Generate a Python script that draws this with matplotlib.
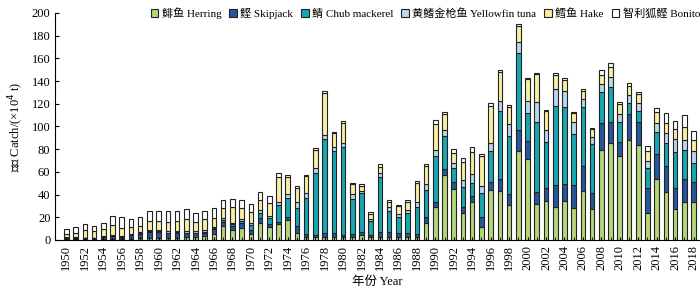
import matplotlib
matplotlib.use('Agg')
import matplotlib.pyplot as plt
import numpy as np

###############################################################
# fonts
###############################################################
plt.rcParams['font.family'] = ['Liberation Serif', 'Noto Sans CJK SC']
plt.rcParams['font.size'] = 9

###############################################################
# data (10^4 t)
###############################################################
years = np.arange(1950, 2019)

herring = [0.5, 0.5, 0.5, 0.5, 0.5, 0.5, 0.5, 1.0, 1.5, 2.0,
           2.0, 2.0, 2.0, 2.5, 3.0, 3.8, 5.3, 12.3, 8.8, 10.9,
           5.3, 15.3, 11.7, 13.8, 17.6, 6.0, 3.0, 2.3, 2.3, 2.3,
           2.3, 2.3, 4.4, 2.3, 2.9, 2.9, 2.9, 2.9, 2.3, 15.3,
           29.4, 57.3, 44.6, 23.5, 33.8, 11.7, 44.0, 43.0, 30.8, 78.0,
           71.0, 31.7, 34.0, 29.4, 34.4, 28.5, 43.5, 27.6, 79.0, 85.0,
           74.0, 88.0, 84.0, 23.5, 54.0, 42.6, 27.6, 33.8, 33.8]
skipjack = [2.0, 1.5, 1.0, 1.0, 2.5, 3.0, 2.0, 3.0, 3.5, 5.0,
            5.0, 4.0, 4.5, 3.5, 3.0, 2.5, 4.0, 3.3, 3.5, 4.4,
            3.5, 3.8, 2.1, 1.8, 2.4, 6.0, 2.4, 1.8, 4.2, 3.6,
            2.0, 3.0, 2.9, 1.8, 4.4, 3.9, 3.0, 3.6, 2.7, 4.7,
            4.4, 5.0, 6.8, 5.3, 5.0, 8.3, 6.8, 11.0, 9.4, 18.5,
            16.0, 10.3, 12.0, 19.0, 15.0, 20.0, 22.0, 14.0, 24.0, 19.0,
            12.0, 23.0, 20.0, 22.0, 22.0, 22.6, 18.0, 19.7, 17.6]
chub = [0.0, 0.0, 0.0, 0.0, 0.0, 0.5, 0.5, 1.0, 1.0, 1.0,
        0.5, 0.5, 0.5, 0.5, 0.5, 1.0, 1.0, 2.0, 1.8, 1.7,
        4.4, 5.0, 5.3, 15.2, 16.7, 16.0, 31.4, 54.6, 82.2, 72.5,
        77.8, 30.8, 33.8, 12.6, 48.5, 19.0, 14.7, 17.0, 23.8, 24.0,
        40.5, 29.3, 11.7, 17.6, 11.0, 21.0, 27.6, 60.0, 51.8, 68.0,
        25.0, 62.3, 40.5, 70.0, 68.0, 45.0, 52.0, 42.6, 27.0, 31.0,
        18.0, 10.0, 9.3, 18.0, 19.0, 20.0, 32.0, 25.8, 16.0]
yellowfin = [0.3, 0.3, 0.3, 0.3, 0.3, 0.5, 0.5, 0.5, 1.0, 1.0,
             1.0, 1.0, 1.0, 1.0, 1.0, 1.5, 1.4, 1.4, 1.2, 1.2,
             2.1, 2.3, 2.0, 3.0, 3.5, 5.0, 4.4, 4.4, 3.8, 3.8,
             3.0, 4.1, 2.1, 1.8, 3.5, 3.6, 2.3, 2.9, 5.0, 5.3,
             5.0, 5.3, 4.5, 6.5, 8.0, 6.6, 6.8, 8.0, 10.0, 10.0,
             10.5, 17.0, 10.0, 14.7, 14.0, 10.3, 7.0, 6.2, 7.4, 8.3,
             7.0, 7.0, 7.4, 6.0, 8.4, 9.3, 11.0, 8.8, 11.0]
hake = [2.5, 4.0, 7.0, 6.0, 6.0, 9.0, 7.0, 6.0, 5.5, 8.0,
        8.0, 8.0, 9.0, 11.0, 8.0, 9.4, 8.0, 8.9, 13.5, 9.7,
        9.7, 8.8, 11.2, 21.4, 15.6, 12.6, 14.7, 16.2, 37.3, 11.8,
        18.2, 8.8, 4.4, 4.4, 4.7, 4.4, 7.0, 7.4, 16.7, 16.2,
        23.0, 13.8, 9.3, 16.0, 20.0, 26.0, 33.0, 26.0, 15.5, 14.0,
        19.0, 25.0, 17.0, 12.4, 9.7, 8.0, 7.0, 7.3, 8.0, 8.7,
        9.0, 8.0, 7.6, 9.0, 9.0, 8.3, 9.0, 11.7, 10.0]
bonito = [4.1, 4.9, 5.0, 4.5, 6.0, 7.9, 9.5, 7.0, 7.5, 8.3,
          8.8, 10.3, 8.8, 9.1, 8.0, 7.6, 8.2, 7.3, 7.0, 7.3,
          6.7, 7.4, 6.7, 4.1, 1.5, 1.5, 1.5, 1.5, 1.5, 1.4,
          1.4, 1.5, 1.7, 1.5, 3.0, 1.4, 0.8, 1.4, 1.8, 1.5,
          3.5, 2.3, 3.0, 3.0, 4.0, 2.4, 2.0, 2.0, 1.5, 2.0,
          1.5, 0.7, 1.0, 1.6, 1.4, 1.0, 1.5, 1.2, 4.6, 3.6,
          1.5, 2.0, 2.4, 4.3, 4.0, 9.0, 7.0, 10.0, 8.0]

series = [herring, skipjack, chub, yellowfin, hake, bonito]
labels = ['鲱鱼 Herring', '鲣 Skipjack', '鲭 Chub mackerel',
          '黄鳍金枪鱼 Yellowfin tuna', '鳕鱼 Hake', '智利狐鲣 Bonito']
colors = ['#b3d67a', '#24579c', '#17a7b2', '#b7d7ee', '#f7f0a2', '#ffffff']

##################################################
# the figure
##################################################
fig = plt.figure(figsize=(7, 2.93), dpi=100)
ax = fig.add_axes([0.079, 0.181, 0.921, 0.775])

bottom = np.zeros(len(years))
for vals, lab, col in zip(series, labels, colors):
    vals = np.array(vals)
    ax.bar(years, vals, width=0.5, bottom=bottom, color=col,
           edgecolor='#222222', linewidth=0.8, label=lab)
    bottom += vals

ax.set_xlim(1948.8, 2018.7)
ax.set_ylim(0, 200)
ax.set_yticks(np.arange(0, 201, 20))
ax.set_xticks(np.arange(1950, 2019, 2))
ax.set_xticks(np.arange(1950, 2019, 1), minor=True)
ax.tick_params(axis='x', which='both', direction='in', length=2, rotation=90)
ax.tick_params(axis='y', direction='in', length=3)

ax.spines['top'].set_visible(False)
ax.spines['right'].set_visible(False)

ax.set_ylabel('产量 Catch/(×10$^4$ t)')
ax.set_xlabel('年份 Year', labelpad=4)

ax.legend(loc='lower right', bbox_to_anchor=(1.0, 0.975), ncol=6,
          frameon=False, fontsize=8, handlelength=0.7, handleheight=0.7,
          handletextpad=0.3, columnspacing=0.7, borderpad=0, borderaxespad=0)

##################################################
# saving
##################################################
fig.savefig('out.png', dpi=100)
